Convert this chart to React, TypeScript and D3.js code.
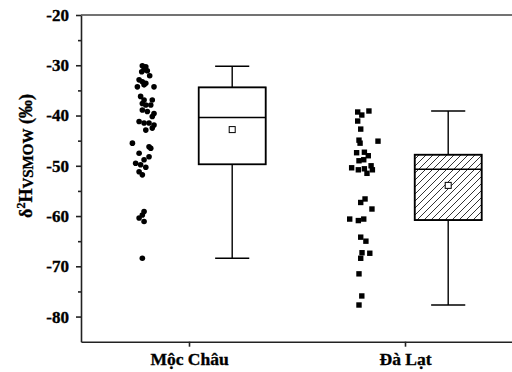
import React, { useEffect, useRef } from 'react'
import * as d3 from 'd3'

const categories = ['Mộc Châu', 'Đà Lạt']
const yTicks = [-80, -70, -60, -50, -40, -30, -20]
const yMinorTicks = [-75, -65, -55, -45, -35, -25]

// raw samples, x given in category units (jittered left of the box)
const mocChauValues = [
  -30.1, -30.3, -30.9, -31.3, -31.1, -32.1, -32.9, -33.3, -33.6, -34.3, -33.9, -34.3,
  -36.2, -36.9, -36.9, -37.6, -37.9, -37.9, -38.9, -39.2, -39.6, -40.2, -41.2, -41.5,
  -41.5, -41.9, -42.9, -42.5, -45.5, -46.2, -46.5, -47.5, -48.8, -48.2, -49.5, -49.8,
  -50.3, -51.2, -51.8, -59.1, -59.8, -60.4, -61.1, -68.4,
]
const mocChauX = [
  0.784, 0.8, 0.792, 0.781, 0.807, 0.818, 0.769, 0.784, 0.8, 0.761, 0.792, 0.838,
  0.776, 0.792, 0.83, 0.784, 0.8, 0.823, 0.784, 0.807, 0.838, 0.83, 0.769, 0.792,
  0.815, 0.838, 0.8, 0.83, 0.738, 0.815, 0.823, 0.769, 0.792, 0.815, 0.753, 0.776,
  0.8, 0.769, 0.784, 0.792, 0.784, 0.769, 0.792, 0.784,
]
const daLatValues = [
  -39.3, -39.1, -39.9, -41.1, -42.7, -44.9, -45.1, -45.5, -47.4, -47.3, -48.0, -49.0,
  -48.8, -50.0, -50.4, -50.8, -50.6, -50.8, -51.5, -56.6, -57.3, -58.6, -60.6, -60.9,
  -60.6, -64.2, -65.0, -67.3, -67.4, -68.4, -71.5, -75.9, -77.7,
]
const daLatX = [
  1.781, 1.833, 1.8, 1.781, 1.795, 1.787, 1.875, 1.792, 1.776, 1.812, 1.83, 1.787,
  1.809, 1.843, 1.753, 1.784, 1.812, 1.849, 1.824, 1.815, 1.795, 1.847, 1.744, 1.784,
  1.809, 1.795, 1.819, 1.801, 1.837, 1.795, 1.787, 1.8, 1.787,
]

// box statistics: min, q1, median, q3, max, mean
const mocChauBox = [-68.4, -49.7, -40.4, -34.4, -30.2, -42.8]
const daLatBox = [-77.7, -60.8, -50.7, -47.8, -39.1, -53.9]

function App() {
  const refSvg = useRef<SVGSVGElement>(null)

  useEffect(() => {
    const svg = d3.select(refSvg.current)
    svg.selectAll('*').remove()

    const x = d3.scaleLinear().domain([0.5, 2.5]).range([81, 513])
    const y = d3.scaleLinear().domain([-85, -20]).range([341.7, 15])
    const font = "'Liberation Serif', 'Times New Roman', serif"

    svg
      .append('defs')
      .append('pattern')
      .attr('id', 'hatch')
      .attr('patternUnits', 'userSpaceOnUse')
      .attr('width', 7)
      .attr('height', 7)
      .append('path')
      .attr('d', 'M-1,1 l2,-2 M0,7 l7,-7 M6,8 l2,-2')
      .attr('stroke', '#000')
      .attr('stroke-width', 0.8)

    const boxes = [
      { cat: 1, stats: mocChauBox, fill: '#fff' },
      { cat: 2, stats: daLatBox, fill: 'url(#hatch)' },
    ]
    const boxHalf = 0.155
    const capHalf = 0.079

    boxes.forEach((b) => {
      const [mn, q1, med, q3, mx, mean] = b.stats
      const c = b.cat + 0.2
      const g = svg.append('g').attr('stroke', '#000').attr('fill', 'none')
      // whiskers
      g.append('line').attr('x1', x(c)).attr('x2', x(c)).attr('y1', y(q3)).attr('y2', y(mx)).attr('stroke-width', 1.4)
      g.append('line').attr('x1', x(c)).attr('x2', x(c)).attr('y1', y(q1)).attr('y2', y(mn)).attr('stroke-width', 1.4)
      g.append('line').attr('x1', x(c - capHalf)).attr('x2', x(c + capHalf)).attr('y1', y(mx)).attr('y2', y(mx)).attr('stroke-width', 1.4)
      g.append('line').attr('x1', x(c - capHalf)).attr('x2', x(c + capHalf)).attr('y1', y(mn)).attr('y2', y(mn)).attr('stroke-width', 1.4)
      // box
      g.append('rect')
        .attr('x', x(c - boxHalf))
        .attr('y', y(q3))
        .attr('width', x(c + boxHalf) - x(c - boxHalf))
        .attr('height', y(q1) - y(q3))
        .attr('fill', '#fff')
      g.append('rect')
        .attr('x', x(c - boxHalf))
        .attr('y', y(q3))
        .attr('width', x(c + boxHalf) - x(c - boxHalf))
        .attr('height', y(q1) - y(q3))
        .attr('fill', b.fill)
        .attr('stroke-width', 1.8)
      g.append('line').attr('x1', x(c - boxHalf)).attr('x2', x(c + boxHalf)).attr('y1', y(med)).attr('y2', y(med)).attr('stroke-width', 1.4)
      // mean
      g.append('rect')
        .attr('x', x(c) - 3)
        .attr('y', y(mean) - 3)
        .attr('width', 6)
        .attr('height', 6)
        .attr('fill', '#fff')
        .attr('stroke-width', 1)
    })

    // points
    svg
      .append('g')
      .selectAll('circle')
      .data(mocChauValues)
      .join('circle')
      .attr('cx', (d, i) => x(mocChauX[i]))
      .attr('cy', (d) => y(d))
      .attr('r', 2.8)
      .attr('fill', '#000')

    svg
      .append('g')
      .selectAll('rect')
      .data(daLatValues)
      .join('rect')
      .attr('x', (d, i) => x(daLatX[i]) - 2.7)
      .attr('y', (d) => y(d) - 2.7)
      .attr('width', 5.4)
      .attr('height', 5.4)
      .attr('fill', '#000')

    // axes
    const yAxis = svg
      .append('g')
      .attr('transform', 'translate(81,0)')
      .call(d3.axisLeft(y).tickValues(yTicks).tickSize(5).tickSizeOuter(0).tickPadding(7).tickFormat((d) => String(d)))
    yAxis.selectAll('line, path').attr('stroke', '#222').attr('stroke-width', 1.6)
    yAxis
      .selectAll('text')
      .style('font-family', font)
      .style('font-size', '17px')
      .style('font-weight', 'bold')
      .attr('fill', '#000')
      .attr('stroke', '#000')
      .attr('stroke-width', 0.35)

    const yMinor = svg
      .append('g')
      .attr('transform', 'translate(81,0)')
      .call(d3.axisLeft(y).tickValues(yMinorTicks).tickSize(3).tickFormat(() => ''))
    yMinor.select('.domain').remove()
    yMinor.selectAll('line').attr('stroke', '#222').attr('stroke-width', 1.6)

    const xAxis = svg
      .append('g')
      .attr('transform', `translate(0,${y(-85)})`)
      .call(d3.axisBottom(x).tickValues([1, 2]).tickSize(5).tickSizeOuter(0).tickPadding(6).tickFormat((d) => categories[(d as number) - 1]))
    xAxis.selectAll('line, path').attr('stroke', '#222').attr('stroke-width', 1.6)
    xAxis
      .selectAll('text')
      .style('font-family', font)
      .style('font-size', '17.5px')
      .style('font-weight', 'bold')
      .attr('fill', '#000')
      .attr('stroke', '#000')
      .attr('stroke-width', 0.35)

    svg
      .append('line')
      .attr('x1', 81)
      .attr('x2', 513)
      .attr('y1', y(-20))
      .attr('y2', y(-20))
      .attr('stroke', '#444')
      .attr('stroke-width', 1.4)

    // y title
    const title = svg
      .append('text')
      .attr('transform', 'translate(32,156) rotate(-90)')
      .attr('text-anchor', 'middle')
      .attr('stroke', '#000')
      .attr('stroke-width', 0.35)
      .style('font-family', font)
      .style('font-size', '18px')
      .style('font-weight', 'bold')
    title.append('tspan').text('δ')
    title.append('tspan').style('font-size', '12px').attr('dy', -7).text('2')
    title.append('tspan').attr('dy', 7).text('H')
    title.append('tspan').style('font-size', '15px').attr('dy', 1).text('VSMOW')
    title.append('tspan').attr('dy', -1).text(' (‰)')
  }, [])

  return <svg ref={refSvg} width={512} height={372} style={{ position: 'absolute', left: 0, top: 0 }} />
}

export default App
